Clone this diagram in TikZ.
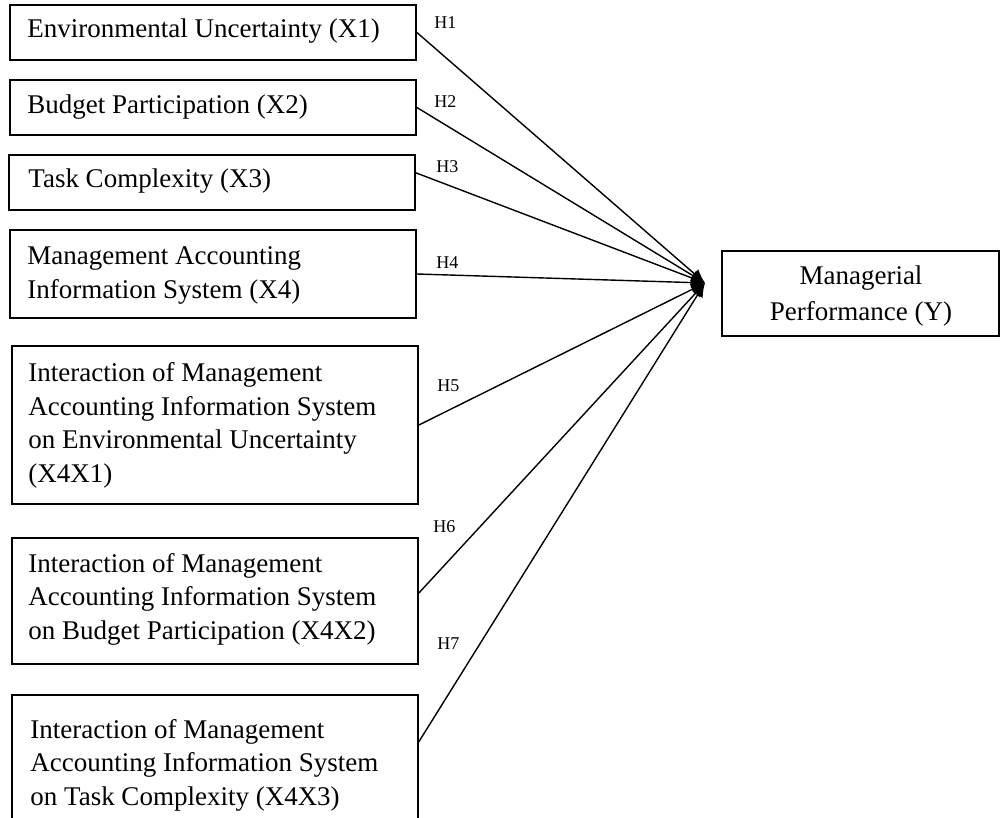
\documentclass[tikz,border=0pt]{standalone}
\usepackage{fontspec}
\setmainfont{Liberation Serif}
\usetikzlibrary{fit,calc,arrows.meta}
\begin{document}
\begin{tikzpicture}[x=0.5pt,y=-0.5pt,
  box/.style={draw, line width=0.9pt, inner sep=0pt},
  txt/.style={font=\fontsize{13.5pt}{16.67pt}\selectfont, inner sep=0pt, align=left, anchor=base west},
  ctxt/.style={font=\fontsize{13.5pt}{17.5pt}\selectfont, inner sep=0pt, align=center, anchor=base},
  hyp/.style={font=\fontsize{9pt}{10pt}\selectfont, inner sep=0pt, anchor=base west},
  link/.style={line width=0.7pt, -{Latex[length=7pt,width=6pt]}}]
\useasboundingbox (0,0) rectangle (1000,818);
\clip (0,0) rectangle (1000,818);
\fill[white] (0,0) rectangle (1000,818);
% corner coordinates
\coordinate (p1a) at (10,5);   \coordinate (p1b) at (416,60);
\coordinate (p2a) at (10,80);  \coordinate (p2b) at (416,135);
\coordinate (p3a) at (9,155);  \coordinate (p3b) at (415,210);
\coordinate (p4a) at (10,230); \coordinate (p4b) at (416,318);
\coordinate (p5a) at (12,346); \coordinate (p5b) at (418,504);
\coordinate (p6a) at (12,538); \coordinate (p6b) at (418,664);
\coordinate (p7a) at (12,695); \coordinate (p7b) at (418,840);
\coordinate (pya) at (722,251); \coordinate (pyb) at (999,336);
% boxes
\node[box, fit=(p1a)(p1b)] (b1) {};
\node[box, fit=(p2a)(p2b)] (b2) {};
\node[box, fit=(p3a)(p3b)] (b3) {};
\node[box, fit=(p4a)(p4b)] (b4) {};
\node[box, fit=(p5a)(p5b)] (b5) {};
\node[box, fit=(p6a)(p6b)] (b6) {};
\node[box, fit=(p7a)(p7b)] (b7) {};
\node[box, fit=(pya)(pyb)] (by) {};
% texts (anchor = baseline of the last line)
\node[txt] (t1) at (27,38) {Environmental Uncertainty (X1)};
\node[txt] (t2) at (27,114) {Budget Participation (X2)};
\node[txt] (t3) at (28,188) {Task Complexity (X3)};
\node[txt] (t4) at (27,298) {Management Accounting\\Information System (X4)};
\node[txt] (t5) at (28,482) {Interaction of Management\\Accounting Information System\\on Environmental Uncertainty\\(X4X1)};
\node[txt] (t6) at (28,639) {Interaction of Management\\Accounting Information System\\on Budget Participation (X4X2)};
\node[txt] (t7) at (30,805) {Interaction of Management\\Accounting Information System\\on Task Complexity (X4X3)};
\node[ctxt] (ty) at (861,320) {Managerial\\Performance (Y)};
% hypothesis labels
\node[hyp] (h1) at (434,29) {H1};
\node[hyp] (h2) at (434,108) {H2};
\node[hyp] (h3) at (436,173) {H3};
\node[hyp] (h4) at (436,268) {H4};
\node[hyp] (h5) at (437,391) {H5};
\node[hyp] (h6) at (433,532) {H6};
\node[hyp] (h7) at (437,649) {H7};
% target point
\coordinate (t) at (705,283);
% links
\draw[link] (b1.east) -- (t);
\draw[link] (b2.east) -- (t);
\draw[link] ($(b3.north east)!0.33!(b3.south east)$) -- (t);
\draw[link] (b4.east) -- (t);
\draw[link] (b5.east) -- (t);
\draw[link] ($(b6.north east)!0.437!(b6.south east)$) -- (t);
\draw[link] ($(b7.north east)!0.324!(b7.south east)$) -- (t);
\end{tikzpicture}
\end{document}
